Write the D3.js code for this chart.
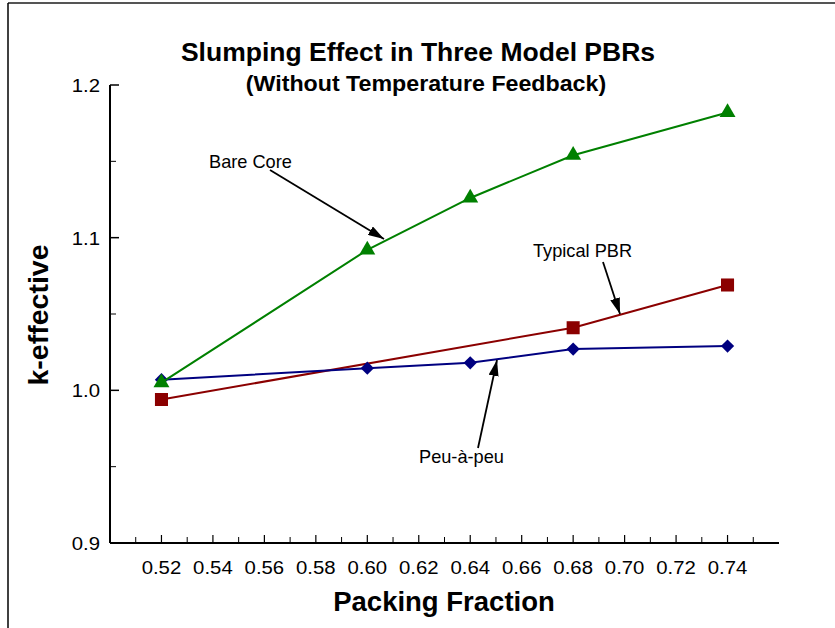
<!DOCTYPE html>
<html>
<head>
<meta charset="utf-8">
<script src="https://cdn.jsdelivr.net/npm/d3@7"></script>
<style>
  html, body { margin: 0; padding: 0; background: #fff; }
  svg { display: block; }
  text { font-family: "Liberation Sans", Arial, Helvetica, sans-serif; }
</style>
</head>
<body>
<svg id="chart" width="835" height="628"></svg>
<script>
// ---- data ----
const bareCoreX = [0.52, 0.60, 0.64, 0.68, 0.74];
const bareCoreY = [1.005, 1.092, 1.126, 1.154, 1.182];
const typicalX = [0.52, 0.68, 0.74];
const typicalY = [0.994, 1.041, 1.069];
const peuX = [0.52, 0.60, 0.64, 0.68, 0.74];
const peuY = [1.007, 1.0145, 1.018, 1.027, 1.029];
const xTickLabels = ["0.52","0.54","0.56","0.58","0.60","0.62","0.64","0.66","0.68","0.70","0.72","0.74"];
const yTickLabels = ["0.9","1.0","1.1","1.2"];

const svg = d3.select("#chart");
const W = 835, H = 628;

// frame
svg.append("line").attr("x1", 8).attr("x2", W).attr("y1", 3).attr("y2", 3)
  .attr("stroke", "#555").attr("stroke-width", 2);
svg.append("line").attr("x1", 8).attr("x2", 8).attr("y1", 3).attr("y2", H)
  .attr("stroke", "#000").attr("stroke-width", 1.5);

const pLeft = 110, pRight = 779, pTop = 85, pBottom = 543;
const x = d3.scaleLinear().domain([0.50, 0.76]).range([pLeft, pRight]);
const y = d3.scaleLinear().domain([0.9, 1.2]).range([pBottom, pTop]);

// axes lines
svg.append("line").attr("x1", pLeft).attr("x2", pLeft).attr("y1", pTop).attr("y2", pBottom)
  .attr("stroke", "#000").attr("stroke-width", 2);
svg.append("line").attr("x1", pLeft).attr("x2", pRight).attr("y1", pBottom).attr("y2", pBottom)
  .attr("stroke", "#000").attr("stroke-width", 2);

// x ticks
const xMajor = xTickLabels.map(Number);
const xMinor = d3.range(0.51, 0.755, 0.02).map(v => +v.toFixed(2));
const gx = svg.append("g");
gx.selectAll("line.maj").data(xMajor).join("line").attr("class", "maj")
  .attr("x1", d => x(d)).attr("x2", d => x(d)).attr("y1", pBottom).attr("y2", pBottom - 8)
  .attr("stroke", "#000").attr("stroke-width", 1.2);
gx.selectAll("line.min").data(xMinor).join("line").attr("class", "min")
  .attr("x1", d => x(d)).attr("x2", d => x(d)).attr("y1", pBottom).attr("y2", pBottom - 6)
  .attr("stroke", "#000").attr("stroke-width", 1);
gx.selectAll("text").data(xTickLabels).join("text")
  .attr("transform", d => `translate(${x(+d)},${pBottom + 31}) scale(1.1,1)`)
  .attr("text-anchor", "middle").attr("font-size", 18.5).attr("fill", "#000")
  .text(d => d);

// y ticks
const yMajor = yTickLabels.map(Number);
const yMinor = [0.95, 1.05, 1.15];
const gy = svg.append("g");
gy.selectAll("line.maj").data(yMajor).join("line").attr("class", "maj")
  .attr("x1", pLeft).attr("x2", pLeft + 9).attr("y1", d => y(d)).attr("y2", d => y(d))
  .attr("stroke", "#000").attr("stroke-width", 1.5);
gy.selectAll("line.min").data(yMinor).join("line").attr("class", "min")
  .attr("x1", pLeft).attr("x2", pLeft + 6).attr("y1", d => y(d)).attr("y2", d => y(d))
  .attr("stroke", "#000").attr("stroke-width", 1);
gy.selectAll("text").data(yTickLabels).join("text")
  .attr("transform", d => `translate(${pLeft - 10},${y(+d) + 7}) scale(1.1,1)`)
  .attr("text-anchor", "end").attr("font-size", 18.5).attr("fill", "#000")
  .text(d => d);

// titles
svg.append("text").attr("x", 418).attr("y", 61).attr("text-anchor", "middle")
  .attr("font-size", 26.5).attr("font-weight", "bold").text("Slumping Effect in Three Model PBRs");
svg.append("text").attr("transform", "translate(426,91) scale(1.08,1)").attr("text-anchor", "middle")
  .attr("font-size", 21.5).attr("font-weight", "bold").text("(Without Temperature Feedback)");
svg.append("text").attr("x", 444).attr("y", 611).attr("text-anchor", "middle")
  .attr("font-size", 27.5).attr("font-weight", "bold").text("Packing Fraction");
svg.append("text").attr("transform", "translate(48,315) rotate(-90)").attr("text-anchor", "middle")
  .attr("font-size", 28.5).attr("font-weight", "bold").text("k-effective");

// series
const line = d3.line().x(d => x(d[0])).y(d => y(d[1]));
function series(xs, ys, color, symbol, size, rot) {
  const pts = xs.map((v, i) => [v, ys[i]]);
  svg.append("path").datum(pts).attr("d", line)
    .attr("fill", "none").attr("stroke", color).attr("stroke-width", 2);
  svg.append("g").selectAll("path").data(pts).join("path")
    .attr("transform", d => `translate(${x(d[0])},${y(d[1])}) rotate(${rot})`)
    .attr("d", d3.symbol().type(symbol).size(size))
    .attr("fill", color);
}
series(typicalX, typicalY, "#8b0000", d3.symbolSquare, 170, 0);
series(peuX, peuY, "#000080", d3.symbolSquare, 88, 45);
series(bareCoreX, bareCoreY, "#008000", d3.symbolTriangle, 110, 0);

// annotations with arrows
svg.append("defs").append("marker").attr("id", "ah")
  .attr("viewBox", "0 0 16 10").attr("refX", 16).attr("refY", 5)
  .attr("markerWidth", 16).attr("markerHeight", 10).attr("markerUnits", "userSpaceOnUse")
  .attr("orient", "auto")
  .append("path").attr("d", "M0,0 L16,5 L0,10 Z").attr("fill", "#000");

function annot(text, tx, ty, ax1, ay1, ax2, ay2) {
  svg.append("text").attr("x", tx).attr("y", ty).attr("font-size", 18.2).text(text);
  svg.append("line").attr("x1", ax1).attr("y1", ay1).attr("x2", ax2).attr("y2", ay2)
    .attr("stroke", "#000").attr("stroke-width", 1.8).attr("marker-end", "url(#ah)");
}
annot("Bare Core", 209, 168, 270, 170, 384, 239);
annot("Typical PBR", 533, 257, 603, 262, 620, 314);
annot("Peu-à-peu", 419, 463, 478, 448, 497, 360);
</script>
</body>
</html>
